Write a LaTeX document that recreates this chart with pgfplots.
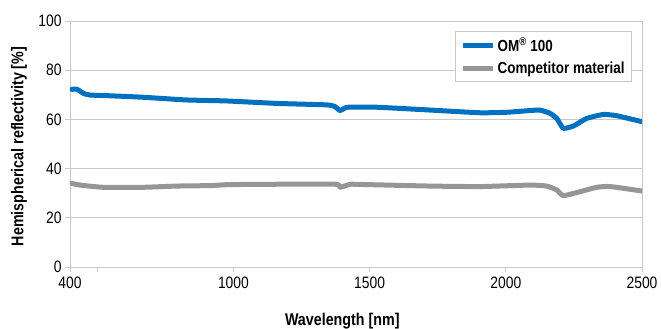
\documentclass[border=0pt]{standalone}
\usepackage{pgfplots}
\pgfplotsset{compat=1.18}
\usepackage{fontspec}
\setmainfont{Liberation Sans}[FakeStretch=0.84]
\definecolor{omblue}{HTML}{0070C0}
\definecolor{compgray}{HTML}{969696}
\definecolor{gridgray}{HTML}{C8C8C8}
\begin{document}
\begin{tikzpicture}
\begin{axis}[
  name=ax,
  scale only axis,
  width=572pt, height=246pt,
  xmin=400, xmax=2500, ymin=0, ymax=100,
  xtick={400,500,1000,1500,2000,2500},
  xticklabels={400,,1000,1500,2000,2500},
  ytick={0,20,40,60,80,100},
  /pgf/number format/assume math mode=true,
  ymajorgrids, grid style={gridgray, line width=0.8pt},
  axis line style={gridgray, line width=0.8pt},
  tick style={gridgray, line width=0.8pt},
  tick align=outside, major tick length=5pt,
  xtick pos=bottom, ytick pos=left,
  ticklabel style={font=\fontsize{16.5}{18}\selectfont},
  xticklabel style={yshift=-1pt},
  xlabel={\textbf{Wavelength [nm]}},
  ylabel={\textbf{Hemispherical reflectivity [\%]}},
  label style={font=\fontsize{17}{19}\selectfont},
  xlabel style={at={(axis description cs:0.476,0)}, anchor=base, yshift=-58pt},
  ylabel style={at={(axis description cs:-0.089,0.49)}, anchor=center},
  legend style={at={(0.9825,0.959)}, anchor=north east, draw=gridgray, line width=0.8pt,
    font=\fontsize{16}{18}\selectfont\bfseries, inner xsep=5pt, inner ysep=4pt,
    row sep=5pt},
  legend cell align=left,
  legend image code/.code={\draw[#1, line width=5pt, line cap=butt] (0cm,0cm) -- (1.05cm,0cm);},
]
\addplot[omblue, line width=5pt, line join=round, line cap=round, smooth, tension=0.3] coordinates {
(406,72.2) (425,72.3) (449,70.6) (473,69.9) (547,69.6) (669,69.0) (828,67.9) (975,67.5)
(1159,66.5) (1342,65.9) (1373,65.2) (1391,63.6) (1416,64.9) (1465,65.0) (1538,64.9)
(1722,63.8) (1905,62.7) (2003,62.9) (2089,63.6) (2125,63.8) (2162,62.5) (2187,60.4)
(2211,56.4) (2248,57.3) (2297,60.4) (2358,62.0) (2407,61.5) (2499,59.1)
};
\addlegendentry{OM\textsuperscript{®} 100}
\addplot[compgray, line width=5pt, line join=round, line cap=round, smooth, tension=0.3] coordinates {
(406,34.0) (437,33.3) (522,32.4) (669,32.4) (792,32.9) (920,33.1) (990,33.5) (1367,33.7)
(1391,32.4) (1428,33.6) (1452,33.6) (1722,32.9) (1905,32.7) (2089,33.3) (2150,32.9)
(2187,31.3) (2211,29.0) (2272,30.6) (2334,32.4) (2383,32.7) (2499,30.9)
};
\addlegendentry{Competitor material}
\end{axis}
\pgfresetboundingbox
\path ([shift={(-70pt,-62pt)}]ax.south west) rectangle ([shift={(19pt,21pt)}]ax.north east);
\end{tikzpicture}
\end{document}
